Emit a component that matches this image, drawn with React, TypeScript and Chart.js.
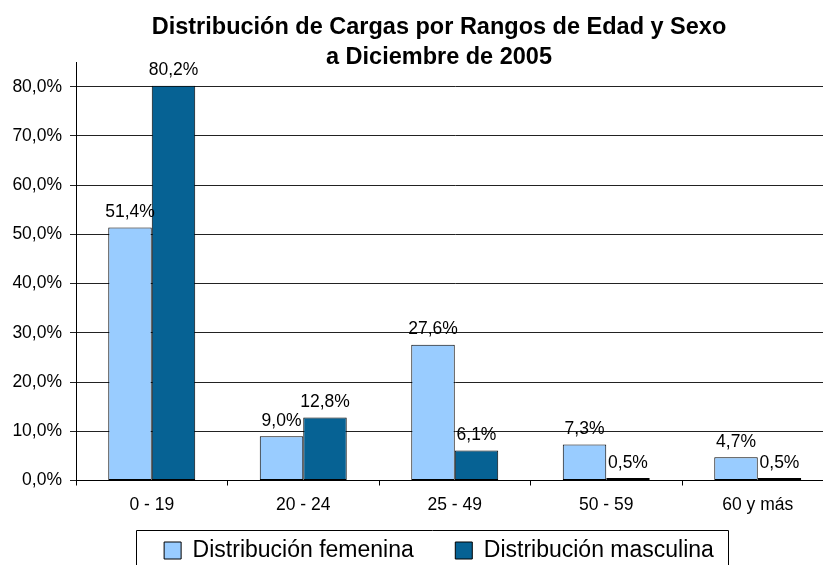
import React, { useEffect, useRef } from 'react';
import { Chart, registerables } from 'chart.js';

Chart.register(...registerables);

const categories = ['0 - 19', '20 - 24', '25 - 49', '50 - 59', '60 y más'];
const femenina = [51.4, 9.0, 27.6, 7.3, 4.7];
const masculina = [80.2, 12.8, 6.1, 0.5, 0.5];
const seriesNames = ['Distribución femenina', 'Distribución masculina'];
const titleLines = ['Distribución de Cargas por Rangos de Edad y Sexo', 'a Diciembre de 2005'];
const yTickValues = [0, 10, 20, 30, 40, 50, 60, 70, 80];
const yMin = 0;
const yMax = 85;

const FONT = "'Liberation Sans', Arial, Helvetica, sans-serif";
const fmt = (v: number) => v.toFixed(1).replace('.', ',') + '%';

const dataLabels = {
  id: 'dataLabels',
  afterDatasetsDraw(chart: any) {
    const ctx = chart.ctx;
    ctx.save();
    ctx.font = `17.5px ${FONT}`;
    ctx.fillStyle = '#000';
    ctx.textAlign = 'center';
    ctx.textBaseline = 'alphabetic';
    chart.data.datasets.forEach((ds: any, i: number) => {
      const meta = chart.getDatasetMeta(i);
      meta.data.forEach((bar: any, j: number) => {
        ctx.fillText(fmt(ds.data[j]), bar.x, bar.y - 10.5);
      });
    });
    ctx.restore();
  },
};

const legendBorder = {
  id: 'legendBorder',
  afterDraw(chart: any) {
    const lg = chart.legend;
    if (!lg || !lg.legendHitBoxes || lg.legendHitBoxes.length === 0) return;
    const hb = lg.legendHitBoxes;
    const first = hb[0];
    const last = hb[hb.length - 1];
    const cy = first.top + first.height / 2;
    const left = Math.round(first.left - 28) + 0.5;
    const right = Math.round(last.left + last.width + 14) + 0.5;
    const top = Math.round(cy - 20.5) + 0.5;
    const ctx = chart.ctx;
    ctx.save();
    ctx.strokeStyle = '#000';
    ctx.lineWidth = 1;
    ctx.beginPath();
    ctx.moveTo(left, chart.height + 10);
    ctx.lineTo(left, top);
    ctx.lineTo(right, top);
    ctx.lineTo(right, chart.height + 10);
    ctx.stroke();
    ctx.restore();
  },
};

const noLabelClip = (scale: any) => {
  scale._computeLabelArea = () => undefined;
};

export default function App() {
  const ref = useRef<HTMLCanvasElement | null>(null);

  useEffect(() => {
    if (!ref.current) return;
    Chart.defaults.font.family = FONT;
    Chart.defaults.color = '#000';
    const chart = new Chart(ref.current, {
      type: 'bar',
      data: {
        labels: categories,
        datasets: [
          {
            label: seriesNames[0],
            data: femenina,
            backgroundColor: '#99CCFF',
            borderColor: '#000',
            borderWidth: 1,
            borderSkipped: false,
          },
          {
            label: seriesNames[1],
            data: masculina,
            backgroundColor: '#066294',
            borderColor: '#000',
            borderWidth: 1,
            borderSkipped: false,
          },
        ],
      },
      options: {
        responsive: false,
        animation: false,
        devicePixelRatio: 1,
        layout: { padding: { left: 44.5, right: 46.5, top: 0, bottom: 0 } },
        datasets: {
          bar: { categoryPercentage: 0.574, barPercentage: 1 },
        },
        scales: {
          x: {
            offset: true,
            grid: {
              offset: true,
              drawOnChartArea: false,
              drawTicks: true,
              tickLength: 5,
              color: '#000',
            },
            border: { display: true, color: '#000', width: 1 },
            ticks: { font: { size: 17.5 }, color: '#000', padding: 9 },
            afterFit(scale: any) {
              scale.height = 17;
              noLabelClip(scale);
            },
          },
          y: {
            min: yMin,
            max: yMax,
            afterBuildTicks(scale: any) {
              scale.ticks = yTickValues.map((v) => ({ value: v }));
            },
            afterFit(scale: any) {
              scale.width = 31.5;
              noLabelClip(scale);
            },
            grid: {
              color: '#222',
              drawTicks: true,
              tickLength: 6,
            },
            border: { display: true, color: '#000', width: 1 },
            ticks: {
              font: { size: 17.5 },
              color: '#000',
              padding: 8,
              callback: (v: any) => fmt(Number(v)),
            },
          },
        },
        plugins: {
          title: {
            display: true,
            text: titleLines,
            color: '#000',
            font: { size: 23.5, weight: 'bold', lineHeight: 1.3 },
            padding: { top: 12, bottom: -11 },
          },
          legend: {
            display: true,
            position: 'bottom',
            labels: {
              font: { size: 23 },
              color: '#000',
              boxWidth: 17,
              boxHeight: 17,
              padding: 41.5,
            },
          },
          tooltip: { enabled: false },
        },
      },
      plugins: [dataLabels, legendBorder],
    } as any);
    return () => chart.destroy();
  }, []);

  return (
    <div
      style={{
        position: 'absolute',
        left: 0,
        top: 0,
        width: 823,
        height: 565,
        overflow: 'hidden',
        background: '#fff',
      }}
    >
      <canvas ref={ref} width={880} height={572} style={{ display: 'block' }} />
    </div>
  );
}
